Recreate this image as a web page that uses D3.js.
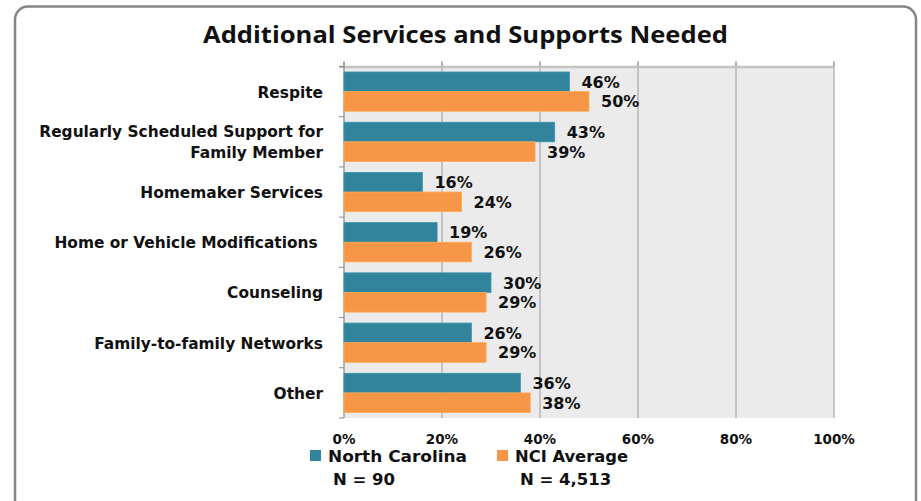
<!DOCTYPE html>
<html>
<head>
<meta charset="utf-8">
<script src="https://cdn.jsdelivr.net/npm/d3@7"></script>
<style>
  html, body { margin: 0; padding: 0; background: #fff; }
  svg { display: block; }
  text { font-family: "DejaVu Sans", Verdana, sans-serif; font-weight: bold; fill: #111; }
</style>
</head>
<body>
<svg id="chart" width="921" height="501"></svg>
<script>
// Services requested, North Carolina vs. NCI average (percent of respondents)
const categories = [
  ["Respite"],
  ["Regularly Scheduled Support for", "Family Member"],
  ["Homemaker Services"],
  ["Home or Vehicle Modifications "],
  ["Counseling"],
  ["Family-to-family Networks"],
  ["Other"]
];
const northCarolina = [46, 43, 16, 19, 30, 26, 36];
const nciAverage    = [50, 39, 24, 26, 29, 29, 38];
const seriesNames   = ["North Carolina", "NCI Average"];
const seriesN       = ["N = 90", "N = 4,513"];
const xTicks        = [0, 20, 40, 60, 80, 100];
const title = "Additional Services and Supports Needed";

const colors = ["#31849B", "#F79646"];

const svg = d3.select("#chart");

// outer rounded frame
svg.append("rect")
  .attr("x", 15).attr("y", 6.5)
  .attr("width", 901).attr("height", 510)
  .attr("rx", 13).attr("ry", 13)
  .attr("fill", "#fff")
  .attr("stroke", "#858585").attr("stroke-width", 2.5);

svg.append("text")
  .attr("x", 465.5).attr("y", 43)
  .attr("text-anchor", "middle")
  .attr("textLength", 525).attr("lengthAdjust", "spacingAndGlyphs")
  .style("font-family", "'Open Sans', sans-serif")
  .style("font-size", "22.5px")
  .text(title);

const plot = { left: 344, right: 834, top: 66.5, bottom: 418 };

const x = d3.scaleLinear().domain([0, 100]).range([plot.left, plot.right]);
const y = d3.scaleBand().domain(d3.range(categories.length))
  .range([plot.top, plot.bottom]).paddingInner(0).paddingOuter(0);
const ySub = d3.scaleBand().domain([0, 1])
  .range([0, y.bandwidth()]).paddingInner(0).paddingOuter(0.28);

// plot background
svg.append("rect")
  .attr("x", plot.left).attr("y", plot.top)
  .attr("width", plot.right - plot.left).attr("height", plot.bottom - plot.top)
  .attr("fill", "#EBEBEB");

// vertical gridlines
svg.append("g").selectAll("line")
  .data(xTicks.slice(1))
  .join("line")
  .attr("x1", d => x(d)).attr("x2", d => x(d))
  .attr("y1", plot.top - 5).attr("y2", plot.bottom)
  .attr("stroke", "#9a9a9a").attr("stroke-width", 1);

// top axis line with tick marks
svg.append("line")
  .attr("x1", plot.left - 5).attr("x2", plot.right)
  .attr("y1", plot.top + 0.5).attr("y2", plot.top + 0.5)
  .attr("stroke", "#c4c4c4").attr("stroke-width", 2.5);
svg.append("g").selectAll("line")
  .data(xTicks)
  .join("line")
  .attr("x1", d => x(d)).attr("x2", d => x(d))
  .attr("y1", plot.top - 5).attr("y2", plot.top)
  .attr("stroke", "#9a9a9a");

// left category axis with tick marks between groups
svg.append("line")
  .attr("x1", plot.left).attr("x2", plot.left)
  .attr("y1", plot.top - 5).attr("y2", plot.bottom)
  .attr("stroke", "#8a8a8a").attr("stroke-width", 1.2);
svg.append("g").selectAll("line")
  .data(d3.range(categories.length + 1))
  .join("line")
  .attr("x1", plot.left - 5).attr("x2", plot.left)
  .attr("y1", i => plot.top + i * y.step()).attr("y2", i => plot.top + i * y.step())
  .attr("stroke", "#8a8a8a");

// bars
const seriesData = [northCarolina, nciAverage];
const groups = svg.append("g").selectAll("g")
  .data(categories.map((c, i) => i))
  .join("g")
  .attr("transform", i => `translate(0,${y(i)})`);

groups.selectAll("rect")
  .data(i => seriesData.map((s, k) => ({ k, v: s[i] })))
  .join("rect")
  .attr("x", x(0))
  .attr("y", d => ySub(d.k))
  .attr("width", d => x(d.v) - x(0))
  .attr("height", ySub.bandwidth())
  .attr("fill", d => colors[d.k])
  .attr("stroke", d => d3.color(colors[d.k]).brighter(0.35))
  .attr("stroke-width", 0.8);

groups.selectAll("text")
  .data(i => seriesData.map((s, k) => ({ k, v: s[i] })))
  .join("text")
  .attr("x", d => x(d.v) + 12)
  .attr("y", d => ySub(d.k) + ySub.bandwidth() / 2 + 6)
  .style("font-size", "16px")
  .text(d => d.v + "%");

// category labels
const catLabels = svg.append("g").selectAll("text")
  .data(categories)
  .join("text")
  .attr("text-anchor", "end")
  .attr("x", 323)
  .attr("y", (c, i) => y(i) + y.bandwidth() / 2 + 6 - (c.length - 1) * 10.5)
  .style("font-size", "15.4px")
  .style("white-space", "pre");
catLabels.selectAll("tspan")
  .data(c => c)
  .join("tspan")
  .attr("x", 323)
  .attr("dy", (d, j) => j === 0 ? 0 : 21)
  .text(d => d);

// x tick labels below the plot
svg.append("g").selectAll("text")
  .data(xTicks)
  .join("text")
  .attr("x", d => x(d))
  .attr("y", 443.5)
  .attr("text-anchor", "middle")
  .style("font-size", "13.5px")
  .text(d => d + "%");

// legend
const legendX = [310, 497];
const legend = svg.append("g").selectAll("g")
  .data(seriesNames.map((n, k) => k))
  .join("g");
legend.append("rect")
  .attr("x", k => legendX[k]).attr("y", 450)
  .attr("width", 11).attr("height", 11)
  .attr("fill", k => colors[k]);
legend.append("text")
  .attr("x", k => legendX[k] + 18).attr("y", 462)
  .style("font-size", "16px")
  .attr("textLength", (k) => k === 0 ? 139 : 113)
  .attr("lengthAdjust", "spacingAndGlyphs")
  .text(k => seriesNames[k]);
legend.append("text")
  .attr("x", k => legendX[k] + 23).attr("y", 484.5)
  .style("font-size", "16.5px")
  .text(k => seriesN[k]);
</script>
</body>
</html>
